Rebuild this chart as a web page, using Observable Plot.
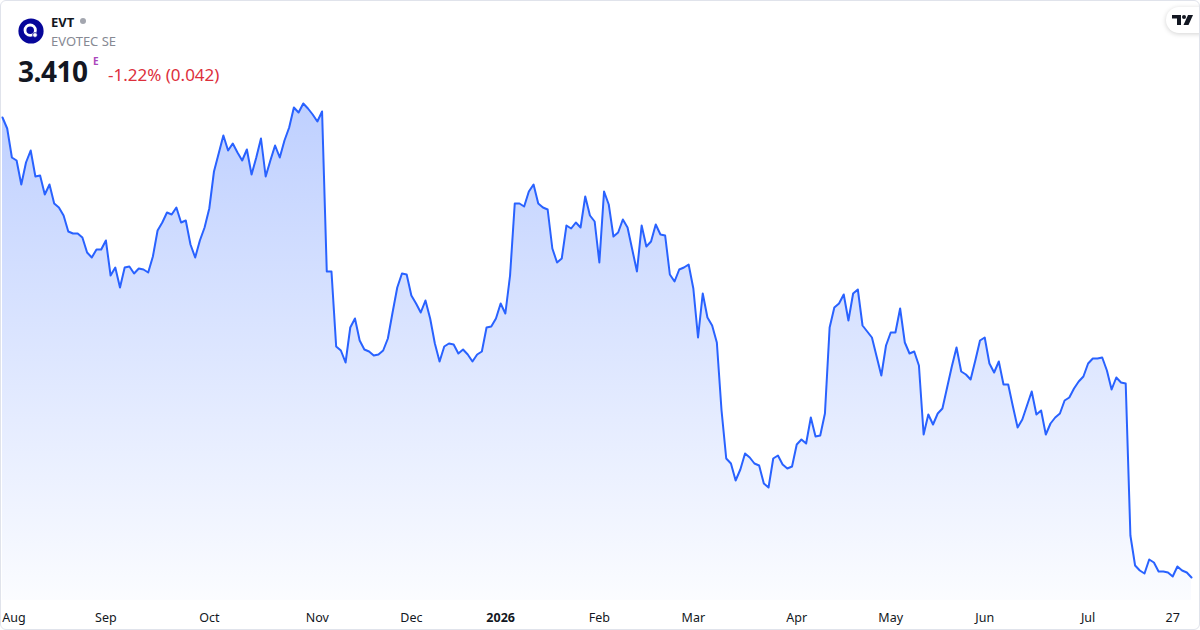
<!DOCTYPE html>
<html><head><meta charset="utf-8">
<script src="https://cdn.jsdelivr.net/npm/d3@7"></script>
<script src="https://cdn.jsdelivr.net/npm/@observablehq/plot@0.6"></script>
<style>
body{margin:0;background:#fff;font-family:"Noto Sans","Open Sans",sans-serif;}
#wrap{position:relative;width:1200px;height:630px;overflow:hidden;background:#fff;}
#chart{position:absolute;left:0;top:0;}
#frame{position:absolute;left:0;top:0;width:1200px;height:630px;box-sizing:border-box;border:1px solid #e0e3eb;border-radius:6px;pointer-events:none;}
.t{position:absolute;white-space:nowrap;line-height:normal;}
#sym{left:51px;top:12.6px;font-size:13px;font-weight:700;color:#131722;}
#dot{position:absolute;left:80px;top:18px;width:6px;height:6px;border-radius:3px;background:#a3a6af;}
#name{left:51px;top:31.8px;font-size:13px;color:#868993;}
#price{left:18px;top:52px;font-size:28px;font-weight:700;color:#131722;letter-spacing:-0.5px;}
#sup{left:93px;top:53.6px;font-size:10px;font-weight:700;color:#ab47bc;}
#chg{left:108px;top:62.5px;font-size:17px;color:#dd2f3c;}
#logo{position:absolute;left:18px;top:18px;}
#tv{position:absolute;left:1166px;top:7px;width:46px;height:26px;border-radius:13px;background:#fff;box-shadow:0 1px 5px rgba(0,0,0,0.18);}
#tv svg{position:absolute;left:6px;top:8px;}
</style>
</head><body>
<div id="wrap">
  <div id="chart"></div>
  <svg id="logo" width="26" height="26" viewBox="0 0 26 26">
    <circle cx="13" cy="13" r="12.6" fill="#07069a"/>
    <circle cx="12.2" cy="12.2" r="5.2" fill="none" stroke="#fff" stroke-width="2.8"/>
    <circle cx="17" cy="17" r="2.4" fill="#fff" stroke="#07069a" stroke-width="0.8"/>
  </svg>
  <div class="t" id="sym">EVT</div>
  <div id="dot"></div>
  <div class="t" id="name">EVOTEC SE</div>
  <div class="t" id="price">3.410</div>
  <div class="t" id="sup">E</div>
  <div class="t" id="chg">-1.22% (0.042)</div>
  <div id="tv"><svg width="24" height="10" viewBox="0 0 24 10">
    <path d="M0 0H9V10H5V3.6H0Z" fill="#131722"/>
    <circle cx="12" cy="2" r="2" fill="#131722"/>
    <path d="M16 0H21L16.5 10H11.5Z" fill="#131722"/>
  </svg></div>
  <div id="frame"></div>
</div>
<script>
// ---- data ----
const startDate = "2025-07-31";
const holidays = ["2025-12-24","2025-12-25","2025-12-26","2025-12-31","2026-01-01","2026-04-03","2026-04-06","2026-05-01"];
const prices = [
8.01,7.90,7.61,7.58,7.34,7.56,7.68,7.42,7.43,7.24,
7.34,7.15,7.11,7.03,6.87,6.85,6.85,6.81,6.66,6.61,
6.69,6.69,6.78,6.43,6.51,6.31,6.51,6.52,6.45,6.50,
6.49,6.46,6.62,6.88,6.96,7.06,7.04,7.11,6.96,6.98,
6.74,6.61,6.78,6.91,7.10,7.47,7.65,7.83,7.68,7.75,
7.66,7.58,7.69,7.44,7.61,7.80,7.42,7.58,7.73,7.61,
7.78,7.91,8.11,8.06,8.15,8.10,8.04,7.97,8.07,6.47,
6.47,5.72,5.68,5.56,5.91,6.00,5.78,5.69,5.67,5.63,
5.64,5.68,5.80,6.06,6.31,6.45,6.44,6.23,6.15,6.06,
6.18,6.00,5.75,5.57,5.72,5.75,5.74,5.65,5.69,5.64,
5.57,5.64,5.67,5.91,5.92,6.00,6.15,6.05,6.43,7.15,
7.15,7.12,7.27,7.34,7.15,7.11,7.09,6.70,6.56,6.60,
6.93,6.90,6.96,6.91,7.22,7.03,6.97,6.56,7.27,7.14,
6.82,6.86,6.99,6.91,6.69,6.47,6.93,6.72,6.77,6.94,
6.84,6.83,6.44,6.37,6.49,6.51,6.54,6.30,5.81,6.25,
6.01,5.93,5.76,5.08,4.60,4.55,4.38,4.49,4.65,4.61,
4.55,4.53,4.35,4.31,4.60,4.63,4.54,4.50,4.52,4.74,
4.79,4.75,5.01,4.82,4.83,5.05,5.91,6.11,6.15,6.24,
5.98,6.25,6.29,5.93,5.87,5.81,5.62,5.43,5.73,5.86,
5.86,6.10,5.76,5.65,5.67,5.53,4.84,5.04,4.94,5.05,
5.10,5.31,5.52,5.71,5.47,5.44,5.39,5.58,5.78,5.81,
5.55,5.46,5.57,5.34,5.34,5.12,4.91,4.99,5.13,5.27,
5.04,5.08,4.84,4.95,5.01,5.05,5.18,5.21,5.30,5.37,
5.42,5.55,5.60,5.60,5.61,5.48,5.29,5.41,5.36,5.35,
3.83,3.53,3.48,3.45,3.59,3.56,3.47,3.47,3.46,3.42,
3.52,3.48,3.46,3.41
];
const tickDates = ["2025-08-01","2025-09-01","2025-10-01","2025-11-03","2025-12-01","2026-01-02","2026-02-02","2026-03-02","2026-04-01","2026-05-04","2026-06-01","2026-07-01","2026-07-27"];
const tickLabels = ["Aug","Sep","Oct","Nov","Dec","2026","Feb","Mar","Apr","May","Jun","Jul","27"];
const yearLabels = ["2026"];
const yDomain = [3.18, 9.18];

// ---- trading days (weekdays minus exchange holidays) ----
const fmt = d3.utcFormat("%Y-%m-%d");
const dates = [];
let d = new Date(startDate + "T00:00:00Z");
while (dates.length < prices.length) {
  const wd = d.getUTCDay();
  const s = fmt(d);
  if (wd !== 0 && wd !== 6 && !holidays.includes(s)) dates.push(s);
  d = d3.utcDay.offset(d, 1);
}
const data = prices.map((p, i) => ({i, date: dates[i], price: p}));
const ticks = tickDates.map((t, k) => ({i: dates.indexOf(t), label: tickLabels[k], k}));
const firstTick = ticks.filter(t => t.k === 0);
const normalTicks = ticks.filter(t => t.k > 0 && !yearLabels.includes(t.label));
const boldTicks = ticks.filter(t => yearLabels.includes(t.label));

const axisText = {x: "i", text: "label", frameAnchor: "bottom", dy: 17, lineAnchor: "middle", fill: "#131722", fontSize: 12.5};

const svg = Plot.plot({
  width: 1200,
  height: 630,
  marginTop: 0,
  marginBottom: 30,
  marginLeft: 2,
  marginRight: 9,
  x: {type: "linear", domain: [0, prices.length - 1], axis: null},
  y: {domain: yDomain, axis: null},
  style: {fontFamily: "'Noto Sans','Open Sans',sans-serif", background: "transparent", overflow: "visible"},
  marks: [
    Plot.areaY(data, {x: "i", y1: yDomain[0], y2: "price", fill: "url(#areaGrad)"}),
    Plot.lineY(data, {x: "i", y: "price", stroke: "#2962ff", strokeWidth: 2, strokeLinejoin: "round"}),
    Plot.text(firstTick, {...axisText, textAnchor: "start", dx: -5}),
    Plot.text(normalTicks, {...axisText}),
    Plot.text(boldTicks, {...axisText, fontWeight: 700})
  ]
});

const ns = "http://www.w3.org/2000/svg";
const defs = document.createElementNS(ns, "defs");
const grad = document.createElementNS(ns, "linearGradient");
grad.setAttribute("id", "areaGrad");
grad.setAttribute("gradientUnits", "userSpaceOnUse");
grad.setAttribute("x1", "0"); grad.setAttribute("x2", "0");
grad.setAttribute("y1", "100"); grad.setAttribute("y2", "600");
[["0", "rgba(41,98,255,0.30)"], ["1", "rgba(41,98,255,0.02)"]].forEach(([o, c]) => {
  const st = document.createElementNS(ns, "stop");
  st.setAttribute("offset", o);
  st.setAttribute("stop-color", c);
  grad.appendChild(st);
});
defs.appendChild(grad);
svg.insertBefore(defs, svg.firstChild);
document.getElementById("chart").appendChild(svg);
</script>
</body></html>
